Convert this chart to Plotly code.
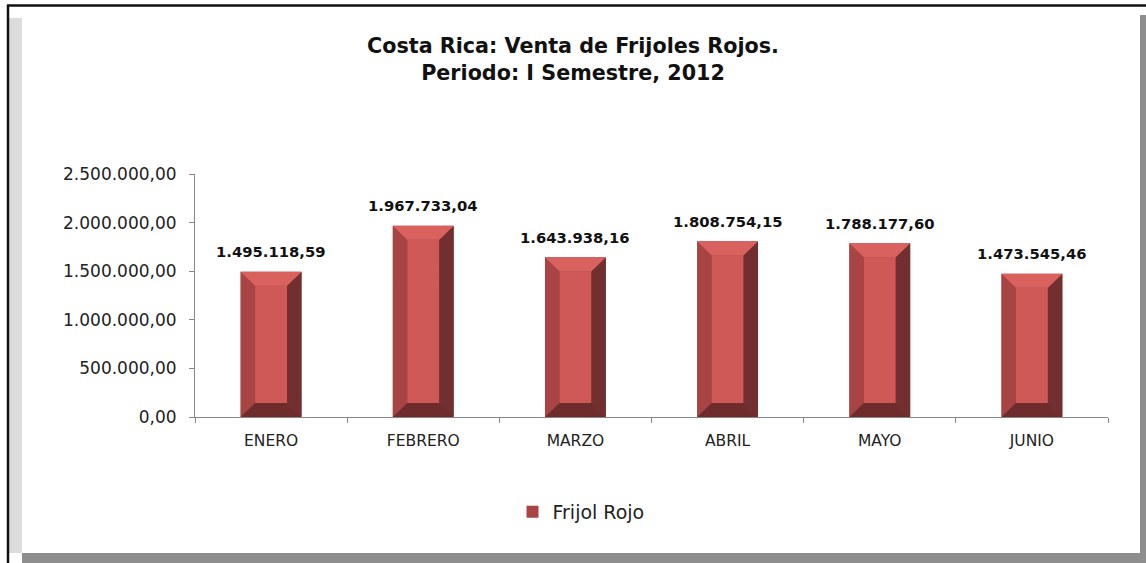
import plotly.graph_objects as go

# ---- data ----
months = ["ENERO", "FEBRERO", "MARZO", "ABRIL", "MAYO", "JUNIO"]
ventas = [1495118.59, 1967733.04, 1643938.16, 1808754.15, 1788177.60, 1473545.46]
series_name = "Frijol Rojo"
y_ticks = [0, 500000, 1000000, 1500000, 2000000, 2500000]

# ---- layout geometry (pixels) ----
W, H = 1146, 563
PL, PR, PT, PB = 195, 1108, 174, 417  # plot area


def px(x):
    return (x - PL) / (PR - PL)


def py(y):
    return (PB - y) / (PB - PT)


FONT = "DejaVu Sans"
BAR_W = 0.4
D_X = 0.095          # bevel depth in x units
Y_MAX = 2500000
D_Y = 14 * Y_MAX / (PB - PT)  # bevel depth ~14px in y units

C_CENTER = "#CF5956"
C_TOP = "#D9625F"
C_LEFT = "#A84544"
C_RIGHT = "#722F2F"
C_BOTTOM = "#6E2C2C"

xs = list(range(len(months)))

fig = go.Figure()
fig.add_trace(go.Bar(
    x=xs, y=ventas, width=BAR_W, name=series_name,
    marker=dict(color=C_LEFT, line=dict(width=0)),
    showlegend=True, hoverinfo="skip",
))


def faces(kind):
    X, Y = [], []
    h = BAR_W / 2
    for c, v in zip(xs, ventas):
        x0, x1 = c - h, c + h
        if kind == "top":
            pts = [(x0, v), (x1, v), (x1 - D_X, v - D_Y), (x0 + D_X, v - D_Y)]
        elif kind == "bottom":
            pts = [(x0, 0), (x1, 0), (x1 - D_X, D_Y), (x0 + D_X, D_Y)]
        elif kind == "left":
            pts = [(x0, 0), (x0, v), (x0 + D_X, v - D_Y), (x0 + D_X, D_Y)]
        elif kind == "right":
            pts = [(x1, 0), (x1, v), (x1 - D_X, v - D_Y), (x1 - D_X, D_Y)]
        else:  # center face
            pts = [(x0 + D_X, D_Y), (x0 + D_X, v - D_Y), (x1 - D_X, v - D_Y), (x1 - D_X, D_Y)]
        pts.append(pts[0])
        X += [p[0] for p in pts] + [None]
        Y += [p[1] for p in pts] + [None]
    return X, Y


for kind, col in [("center", C_CENTER), ("left", C_LEFT), ("right", C_RIGHT),
                  ("bottom", C_BOTTOM), ("top", C_TOP)]:
    X, Y = faces(kind)
    fig.add_trace(go.Scatter(
        x=X, y=Y, mode="lines", fill="toself", fillcolor=col,
        line=dict(width=0, color=col), showlegend=False, hoverinfo="skip",
    ))

# data labels
annotations = []
for c, v in zip(xs, ventas):
    annotations.append(dict(
        x=c, y=v, xref="x", yref="y", yshift=20, yanchor="middle",
        text="<b>" + f"{v:,.2f}".replace(",", "X").replace(".", ",").replace("X", ".") + "</b>",
        showarrow=False, font=dict(family=FONT, size=14.8, color="#111111"),
    ))

shapes = [
    # gray shadow right & bottom
    dict(type="rect", xref="paper", yref="paper", x0=px(1140), x1=px(1147), y0=py(564), y1=py(15),
         fillcolor="#8E8E8E", line=dict(width=0), layer="below"),
    dict(type="rect", xref="paper", yref="paper", x0=px(22), x1=px(1147), y0=py(564), y1=py(553),
         fillcolor="#8E8E8E", line=dict(width=0), layer="below"),
    # light strip left
    dict(type="rect", xref="paper", yref="paper", x0=px(9), x1=px(22), y0=py(553), y1=py(18),
         fillcolor="#DCDCDC", line=dict(width=0), layer="below"),
    # black border top and left
    dict(type="line", xref="paper", yref="paper", x0=px(7), x1=px(1147), y0=py(5.5), y1=py(5.5),
         line=dict(color="#111111", width=2.5)),
    dict(type="line", xref="paper", yref="paper", x0=px(8), x1=px(8), y0=py(5), y1=py(564),
         line=dict(color="#111111", width=2.5)),
]

fig.update_layout(
    width=W, height=H,
    margin=dict(l=PL, r=W - PR, t=PT, b=H - PB, autoexpand=False),
    paper_bgcolor="white", plot_bgcolor="white",
    separators=",.",
    font=dict(family=FONT, color="#222222"),
    title=dict(
        text="<b>Costa Rica: Venta de Frijoles Rojos.<br>Periodo: I Semestre, 2012</b>",
        x=0.5, xref="container", xanchor="center",
        y=1 - 53 / H, yref="container", yanchor="middle",
        font=dict(family=FONT, size=20.7, color="#111111"),
    ),
    xaxis=dict(
        range=[-0.5, 5.5], tickmode="array", tickvals=xs, ticktext=months,
        showline=True, linecolor="#868686", linewidth=1, showgrid=False, zeroline=False,
        ticks="", tickfont=dict(size=15.5, color="#222222"), ticklabelstandoff=9,
        minor=dict(tickmode="linear", tick0=-0.5, dtick=1, ticks="outside", ticklen=5, tickcolor="#868686"),
        fixedrange=True,
    ),
    yaxis=dict(
        range=[0, Y_MAX], tickmode="array", tickvals=y_ticks, tickformat=",.2f",
        showline=True, linecolor="#868686", linewidth=1, showgrid=False, zeroline=False,
        ticks="outside", ticklen=5, tickcolor="#868686", ticklabelstandoff=9,
        tickfont=dict(size=17, color="#222222"),
        fixedrange=True,
    ),
    legend=dict(
        orientation="h", x=px(581), xanchor="center", y=py(512), yanchor="middle",
        font=dict(size=19, color="#222222"),
    ),
    annotations=annotations,
    shapes=shapes,
)

fig.write_html("out.html", post_script="document.body.style.margin='0';",
               config={"displayModeBar": False})
